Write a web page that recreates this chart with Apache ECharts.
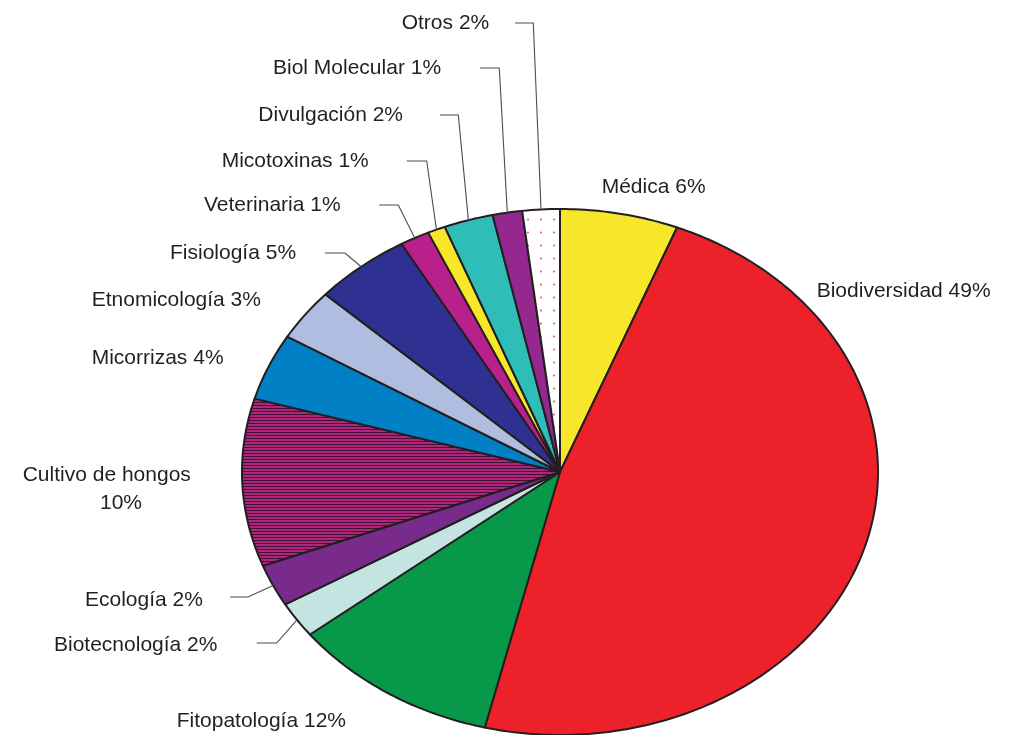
<!DOCTYPE html>
<html><head><meta charset="utf-8">
<script src="https://cdn.jsdelivr.net/npm/echarts@6/dist/echarts.min.js"></script>
<style>html,body{margin:0;padding:0;background:#fff}#c{width:1012px;height:735px}</style>
</head><body><div id="c"></div>
<script>
// ---- data (clockwise from 12 o'clock) ----
const categories = ['Médica','Biodiversidad','Fitopatología','Biotecnología','Ecología','Cultivo de hongos','Micorrizas','Etnomicología','Fisiología','Veterinaria','Micotoxinas','Divulgación','Biol Molecular','Otros'];
const shares = [6.0, 47.8, 10.6, 2.2, 2.6, 10.3, 4.1, 3.2, 4.9, 1.5, 0.9, 2.5, 1.5, 1.9];
const percentLabels = ['6%','49%','12%','2%','2%','10%','4%','3%','5%','1%','1%','2%','1%','2%'];

// ---- styles / layout ----
function stripePattern(){
  const cv=document.createElement('canvas'); cv.width=8; cv.height=3;
  const g=cv.getContext('2d'); g.fillStyle='#b3247f'; g.fillRect(0,0,8,3);
  g.fillStyle='#3a1430'; g.fillRect(0,0,8,1); return {image:cv, repeat:'repeat'};
}
function dotPattern(){
  const cv=document.createElement('canvas'); cv.width=13; cv.height=13;
  const g=cv.getContext('2d'); g.fillStyle='#ffffff'; g.fillRect(0,0,13,13);
  g.fillStyle='#e8646c'; g.beginPath(); g.arc(8,11.5,1.1,0,Math.PI*2); g.fill(); return {image:cv, repeat:'repeat'};
}
const fills = ['#f7e62a','#ed2129','#08984a','#c4e4e1','#792b8b',stripePattern(),'#0180c6','#afbee0','#2e3191','#b8208b','#f7e62a','#2fbdb8','#94288f',dotPattern()];
const labelLayout = [
  {x:601.7,y:187},
  {x:816.7,y:291},
  {x:176.7,y:721.7},
  {x:54,y:645, leader:[256.7,276.7,643]},
  {x:85,y:600, leader:[230,248,597]},
  {x:22.7,y:475, wrap:[100,503.3]},
  {x:91.7,y:358},
  {x:91.7,y:300},
  {x:170,y:253.3, leader:[325,345,253]},
  {x:204,y:205, leader:[379.3,398.3,205]},
  {x:221.7,y:161.7, leader:[406.7,426.7,161]},
  {x:258.3,y:115, leader:[440,458.3,115]},
  {x:273,y:68.3, leader:[480,499.3,68]},
  {x:401.7,y:23, leader:[515,533.3,23]}
];
const FONT = '21px "Liberation Sans", Arial, sans-serif';

const total = shares.reduce((a,b)=>a+b,0);
let acc = 0;
const sliceData = shares.map((v,i)=>{const s=acc/total; acc+=v; return [s, acc/total, i];});

function textEl(x,y,t){
  return {type:'text', x:x, y:y, z2:10, style:{text:t, fill:'#231f20', font:FONT, align:'left', verticalAlign:'middle'}};
}

function renderItem(params, api){
  const i = params.dataIndex;
  const a0 = api.value(0), a1 = api.value(1);
  const c = api.coord([0,0]);
  const pts=[c];
  const n = Math.max(3, Math.ceil((a1-a0)*400));
  for(let k=0;k<=n;k++){
    const t=2*Math.PI*(a0+(a1-a0)*k/n);
    pts.push(api.coord([Math.sin(t), Math.cos(t)]));
  }
  const children=[{type:'polygon', shape:{points:pts}, style:{fill:fills[i], stroke:'#231f20', lineWidth:2, lineJoin:'round'}}];
  const L = labelLayout[i];
  if(L.wrap){
    children.push(textEl(L.x, L.y, categories[i]));
    children.push(textEl(L.wrap[0], L.wrap[1], percentLabels[i]));
  } else {
    children.push(textEl(L.x, L.y, categories[i] + ' ' + percentLabels[i]));
  }
  if(L.leader){
    const tm = 2*Math.PI*(a0+a1)/2;
    const e = api.coord([Math.sin(tm), Math.cos(tm)]);
    children.push({type:'polyline', z2:5, shape:{points:[[L.leader[0],L.leader[2]],[L.leader[1],L.leader[2]],e]}, style:{stroke:'#4d4d4d', lineWidth:1.1, fill:null}});
  }
  return {type:'group', children};
}

const chart = echarts.init(document.getElementById('c'), null, {renderer:'canvas'});
chart.setOption({
  animation:false,
  backgroundColor:'#ffffff',
  grid:{left:242, top:209, width:636, height:528},
  xAxis:{type:'value', min:-1, max:1, show:false},
  yAxis:{type:'value', min:-1, max:1, show:false},
  series:[{type:'custom', renderItem, data:sliceData, clip:false, silent:true}]
});
</script></body></html>
